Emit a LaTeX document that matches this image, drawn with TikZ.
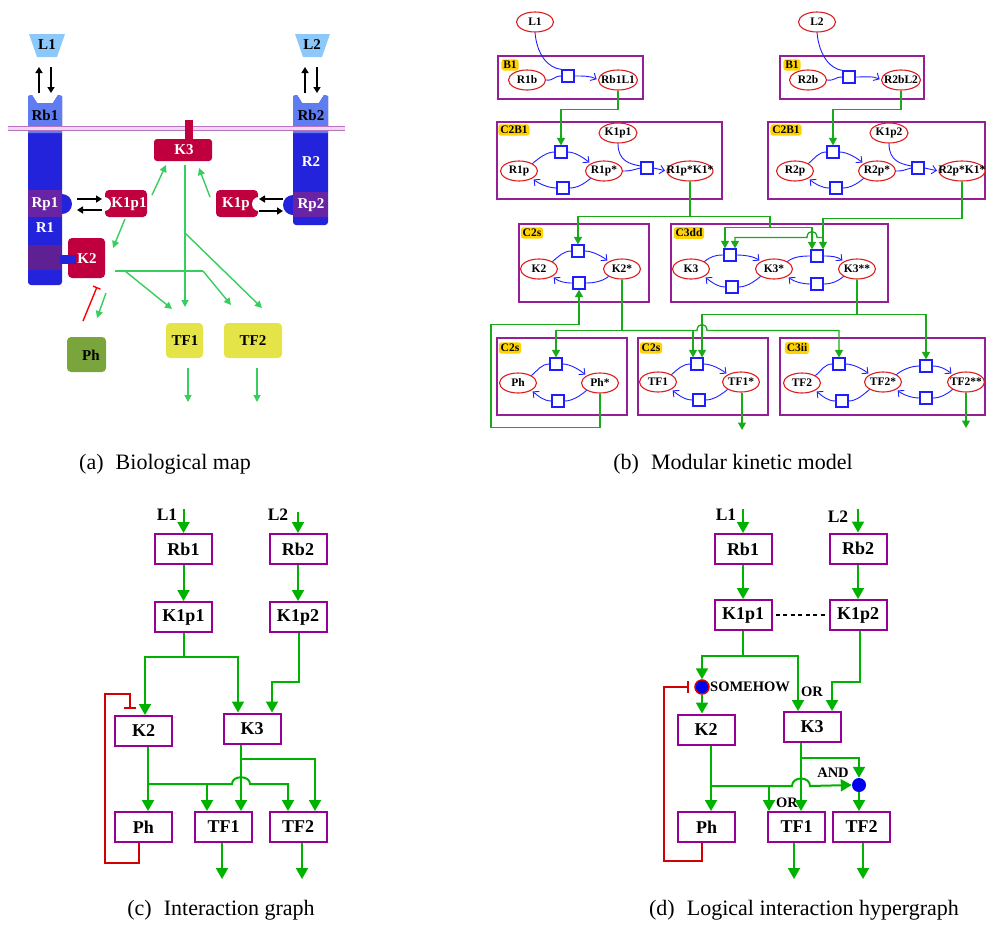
\documentclass[tikz,border=0pt]{standalone}
\usepackage{fontspec}
\setmainfont{Liberation Serif}
\usetikzlibrary{arrows.meta,shapes.geometric}
% colours of the biological map
\definecolor{mapblue}{RGB}{35,35,220}
\definecolor{maplight}{RGB}{95,125,240}
\definecolor{ligand}{RGB}{140,200,250}
\definecolor{mappurple}{RGB}{105,35,165}
\definecolor{crimson}{RGB}{192,0,62}
\definecolor{mapgreen}{RGB}{55,205,95}
\definecolor{olive}{RGB}{122,165,60}
\definecolor{tfyellow}{RGB}{228,228,72}
\definecolor{membrane}{RGB}{185,115,195}
\definecolor{membranefill}{RGB}{240,215,240}
% colours of the kinetic model
\definecolor{kgreen}{RGB}{25,170,25}
\definecolor{gyellow}{RGB}{255,210,0}
\definecolor{spred}{RGB}{220,30,30}
\definecolor{rxblue}{RGB}{30,30,255}
\definecolor{modpurple}{RGB}{150,30,150}
% colours of the graphs
\definecolor{igreen}{RGB}{0,178,0}
\definecolor{ipurple}{RGB}{150,0,150}
\definecolor{ired}{RGB}{210,0,0}
\definecolor{gateblue}{RGB}{0,0,240}

% two-state cycle: left species, right species, upper reaction, lower reaction
\newcommand\mkcycle[4]{%
  \draw[bl] (#1.north east) .. controls +(6,-5) and +(-8,0) .. (#3.west);
  \draw[bla] (#3.east) .. controls +(8,0) and +(-6,-5) .. (#2.north west);
  \draw[bl] (#2.south west) .. controls +(-6,5) and +(8,0) .. (#4.east);
  \draw[bla] (#4.west) .. controls +(-8,0) and +(6,5) .. (#1.south east);
}

\begin{document}
\begin{tikzpicture}[x=1pt,y=-1pt,
  maptxt/.style={font=\fontsize{15}{15}\selectfont\bfseries, inner sep=0pt},
  mapg/.style={draw=mapgreen, line width=1.4pt, -{Triangle[length=7pt,width=7pt]}},
  mapk/.style={draw=black, line width=1.8pt, -{Triangle[length=6pt,width=7pt]}},
  sp/.style={ellipse, draw=spred, line width=1.1pt, fill=white, minimum width=37pt,
    minimum height=20pt, inner sep=0pt, label={[sptext]center:#1}},
  sptext/.style={font=\fontsize{11.5}{12}\selectfont\bfseries, inner sep=0pt},
  sq/.style={draw=rxblue, line width=1.2pt, fill=white, minimum size=12pt, inner sep=0pt},
  module/.style={draw=modpurple, line width=1.2pt},
  badge/.style={fill=gyellow, rounded corners=2.5pt, inner sep=1.8pt,
    font=\fontsize{11.5}{12}\selectfont\bfseries},
  bl/.style={draw=rxblue, line width=0.9pt},
  bla/.style={bl, shorten >=1.5pt, -{Straight Barb[length=4.5pt,width=8.5pt]}},
  gk/.style={draw=kgreen, line width=1.3pt},
  gka/.style={gk, -{Triangle[length=7.5pt,width=8pt]}},
  box/.style={draw=ipurple, line width=2pt, fill=white, minimum width=57pt,
    minimum height=30pt, inner sep=0pt, font=\fontsize{18}{18}\selectfont\bfseries},
  ig/.style={draw=igreen, line width=2pt},
  iga/.style={ig, -{Triangle[length=11pt,width=12pt]}},
  inh/.style={draw=ired, line width=2pt},
  lbl/.style={font=\fontsize{17.5}{18}\selectfont\bfseries, inner sep=0pt},
  logic/.style={font=\fontsize{14.5}{15}\selectfont\bfseries, inner sep=0pt},
  gate/.style={circle, fill=gateblue, minimum size=14pt, inner sep=0pt},
  captxt/.style={font=\fontsize{22}{24}\selectfont, inner sep=0pt},
]
\useasboundingbox (0,0) rectangle (988,927);

%% ================= (a) biological map =================
% ligands
\fill[ligand] (29,34) -- (65,34) -- (57,57) -- (37,57) -- cycle;
\node[maptxt] (aL1) at (47,45) {L1};
\fill[ligand] (295,34) -- (330,34) -- (322,57) -- (303,57) -- cycle;
\node[maptxt] (aL2) at (312,45) {L2};
% receptor 1
\fill[mapblue] (28,96) -- (32,95) -- (37,103) -- (53,103) -- (58,95) -- (62,96)
  [rounded corners=3pt] -- (62,285) -- (28,285) [sharp corners] -- cycle;
\fill[maplight] (28,96) -- (32,95) -- (37,103) -- (53,103) -- (58,95) -- (62,96) -- (62,133) -- (28,133) -- cycle;
\fill[mapblue] (62,204) circle[radius=10pt];
\fill[mappurple] (28,190) rectangle (62,217);
\fill[mappurple!90!black] (28,245) rectangle (62,270);
% receptor 2
\fill[mapblue] (293,96) -- (297,95) -- (302,103) -- (319,103) -- (324,95) -- (328,96)
  [rounded corners=3pt] -- (328,225) -- (293,225) [sharp corners] -- cycle;
\fill[maplight] (293,96) -- (297,95) -- (302,103) -- (319,103) -- (324,95) -- (328,96) -- (328,133) -- (293,133) -- cycle;
\fill[mapblue] (293,205) circle[radius=10pt];
\fill[mappurple] (293,192) rectangle (328,217);
% membrane
\fill[membranefill] (8,126.5) rectangle (345,130.5);
\draw[membrane, line width=1pt] (8,126.5) -- (345,126.5);
\draw[membrane, line width=1pt] (8,130.5) -- (345,130.5);
\node[maptxt] (aRb1) at (45,115) {Rb1};
\node[maptxt, text=white] (aRp1) at (45,204) {Rp1};
\node[maptxt, text=white] (aR1) at (45,228) {R1};
\node[maptxt] (aRb2) at (311,115) {Rb2};
\node[maptxt, text=white] (aR2) at (311,162) {R2};
\node[maptxt, text=white] (aRp2) at (311,205) {Rp2};
% kinases
\fill[crimson] (185,120) rectangle (193,140);
\fill[crimson, rounded corners=3pt] (154,139) rectangle (212,161);
\node[maptxt, text=white] (aK3) at (184,150) {K3};
\fill[crimson, rounded corners=4pt] (105,190) rectangle (147,217);
\fill[white] (104,204) circle[radius=7pt];
\node[maptxt, text=white] (aK1p1) at (129,204) {K1p1};
\fill[crimson, rounded corners=4pt] (216,190) rectangle (258,217);
\fill[white] (259,204) circle[radius=7pt];
\node[maptxt, text=white] (aK1p2) at (236,204) {K1p};
\fill[crimson, rounded corners=4pt] (68,238) rectangle (105,278);
\fill[mapblue] (60,255) rectangle (76,264);
\node[maptxt, text=white] (aK2) at (87,259) {K2};
% phosphatase and transcription factors
\fill[olive, rounded corners=4pt] (67,337) rectangle (106,372);
\node[maptxt] (aPh) at (91,355) {Ph};
\fill[tfyellow, rounded corners=4pt] (166,323) rectangle (203,358);
\node[maptxt] (aTF1) at (185,341) {TF1};
\fill[tfyellow, rounded corners=4pt] (224,323) rectangle (282,358);
\node[maptxt] (aTF2) at (253,341) {TF2};
% binding arrows
\draw[mapk] (39,93) -- (39,67);
\draw[mapk] (51,67) -- (51,93);
\draw[mapk] (305,93) -- (305,67);
\draw[mapk] (317,67) -- (317,93);
\draw[mapk] (77,199) -- (102,199);
\draw[mapk] (102,210) -- (77,210);
\draw[mapk] (283,199) -- (259,199);
\draw[mapk] (259,211) -- (283,211);
% activations
\draw[mapg] (152,195) -- (166,165);
\draw[mapg] (210,197) -- (199,168);
\draw[mapg] (125,219) -- (113,248);
\draw[mapg] (185,165) -- (185,307);
\draw[mapg] (185,233) -- (262,308);
\draw[draw=mapgreen, line width=1.4pt] (115,271) -- (203,271);
\draw[mapg] (125,271) -- (172,309);
\draw[mapg] (203,271) -- (231,305);
\draw[mapg] (106,293) -- (97,318);
\draw[mapg] (188,368) -- (188,402);
\draw[mapg] (257,368) -- (257,402);
\draw[draw=red, line width=1.4pt, -{Bar[width=8pt]}] (83,321) -- (97,287);

%% ================= (b) modular kinetic model =================
% ligand binding modules
\draw[module] (498,56) rectangle (643,99);
\node[badge] (bgB1a) at (510,65) {B1};
\node[sp=L1] (L1) at (535,22) {};
\node[sp=R1b] (R1b) at (527,80) {};
\node[sp=Rb1L1, minimum width=39pt] (Rb1L1) at (618,80) {};
\node[sq] (sqb1) at (568,76) {};
\draw[bl] (L1.south) .. controls (537,55) and (548,68) .. (sqb1.north west);
\draw[bl] (R1b.east) .. controls +(8,1) and +(-8,0) .. (sqb1.west);
\draw[bla] (sqb1.east) .. controls +(9,0) and +(-7,-4) .. (Rb1L1.west);

\draw[module] (780,56) rectangle (924,99);
\node[badge] (bgB1b) at (792,65) {B1};
\node[sp=L2] (L2) at (817,22) {};
\node[sp=R2b] (R2b) at (808,80) {};
\node[sp=R2bL2, minimum width=39pt] (R2bL2) at (901,80) {};
\node[sq] (sqb2) at (849,77) {};
\draw[bl] (L2.south) .. controls (819,55) and (830,69) .. (sqb2.north west);
\draw[bl] (R2b.east) .. controls +(8,1) and +(-8,0) .. (sqb2.west);
\draw[bla] (sqb2.east) .. controls +(9,0) and +(-7,-4) .. (R2bL2.west);

% receptor modules
\draw[module] (497,122) rectangle (722,199);
\node[badge] (bgC2B1a) at (514,130) {C2B1};
\node[sp=K1p1, minimum width=38pt] (K1p1) at (618,133) {};
\node[sp=R1p] (R1p) at (519,171) {};
\node[sp=R1p*] (R1ps) at (604,171) {};
\node[sp=R1p*K1*, minimum width=46pt] (R1psK) at (690,171) {};
\node[sq] (c1t) at (561,152) {};
\node[sq] (c1b) at (563,188) {};
\node[sq] (c1k) at (647,168) {};
\mkcycle{R1p}{R1ps}{c1t}{c1b}
\draw[bl] (R1ps.east) .. controls +(8,0) and +(-8,2) .. (c1k.west);
\draw[bl] (K1p1.south) .. controls +(0,18) and +(-10,-2) .. ([yshift=2pt]c1k.west);
\draw[bla] (c1k.east) -- (R1psK.west);

\draw[module] (768,122) rectangle (985,199);
\node[badge] (bgC2B1b) at (786,130) {C2B1};
\node[sp=K1p2, minimum width=38pt] (K1p2) at (889,133) {};
\node[sp=R2p] (R2p) at (795,171) {};
\node[sp=R2p*] (R2ps) at (877,171) {};
\node[sp=R2p*K1*, minimum width=46pt] (R2psK) at (962,171) {};
\node[sq] (c2t) at (833,152) {};
\node[sq] (c2b) at (836,188) {};
\node[sq] (c2k) at (918,168) {};
\mkcycle{R2p}{R2ps}{c2t}{c2b}
\draw[bl] (R2ps.east) .. controls +(8,0) and +(-8,2) .. (c2k.west);
\draw[bl] (K1p2.south) .. controls +(0,18) and +(-10,-2) .. ([yshift=2pt]c2k.west);
\draw[bla] (c2k.east) -- (R2psK.west);

% kinase modules
\draw[module] (519,224) rectangle (649,302);
\node[badge] (bgC2sa) at (532,233) {C2s};
\node[sp=K2] (K2) at (539,269) {};
\node[sp=K2*] (K2s) at (622,269) {};
\node[sq] (k2t) at (578,251) {};
\node[sq] (k2b) at (579,283) {};
\mkcycle{K2}{K2s}{k2t}{k2b}

\draw[module] (671,224) rectangle (888,302);
\node[badge] (bgC3dd) at (689,233) {C3dd};
\node[sp=K3] (K3) at (691,269) {};
\node[sp=K3*] (K3s) at (774,269) {};
\node[sp=K3**] (K3ss) at (857,269) {};
\node[sq] (k3at) at (730,255) {};
\node[sq] (k3ab) at (732,287) {};
\node[sq] (k3bt) at (817,256) {};
\node[sq] (k3bb) at (817,284) {};
\mkcycle{K3}{K3s}{k3at}{k3ab}
\mkcycle{K3s}{K3ss}{k3bt}{k3bb}

% target modules
\draw[module] (497,338) rectangle (627,415);
\node[badge] (bgC2sb) at (510,348) {C2s};
\node[sp=Ph] (Ph) at (518,383) {};
\node[sp=Ph*] (Phs) at (600,383) {};
\node[sq] (pht) at (556,364) {};
\node[sq] (phb) at (558,401) {};
\mkcycle{Ph}{Phs}{pht}{phb}

\draw[module] (638,338) rectangle (768,415);
\node[badge] (bgC2sc) at (651,348) {C2s};
\node[sp=TF1] (TF1) at (658,382) {};
\node[sp=TF1*] (TF1s) at (741,382) {};
\node[sq] (tf1t) at (697,364) {};
\node[sq] (tf1b) at (699,400) {};
\mkcycle{TF1}{TF1s}{tf1t}{tf1b}

\draw[module] (780,338) rectangle (985,415);
\node[badge] (bgC3ii) at (797,348) {C3ii};
\node[sp=TF2] (TF2) at (802,383) {};
\node[sp=TF2*] (TF2s) at (883,382) {};
\node[sp=TF2**] (TF2ss) at (966,382) {};
\node[sq] (tf2at) at (839,364) {};
\node[sq] (tf2ab) at (842,401) {};
\node[sq] (tf2bt) at (926,366) {};
\node[sq] (tf2bb) at (926,398) {};
\mkcycle{TF2}{TF2s}{tf2at}{tf2ab}
\mkcycle{TF2s}{TF2ss}{tf2bt}{tf2bb}

% signal flow between modules
\draw[gka] (Rb1L1.south) |- (561,109.5) -- (c1t.north);
\draw[gka] (R2bL2.south) |- (833,109.5) -- (c2t.north);
\draw[gk] (R1psK.south) -- (690,216.5) coordinate (j1);
\draw[gka] (j1) -| (k2t.north);
\draw[gk] (j1) -| (770,227.5) coordinate (j2);
\draw[gka] (j2) -| ([xshift=-5pt]k3at.north);
\draw[gka] (j2) -| ([xshift=-5pt]k3bt.north);
\draw[gka] (R2psK.south) |- (823,218.5) -- ([xshift=6pt]k3bt.north);
\draw[gka] (823,237.5) -- (817,237.5) .. controls (817,229.5) and (807,229.5) .. (807,237.5)
  -- (735,237.5) -- ([xshift=5pt]k3at.north);
\draw[gk] (K2s.south) -- (622,330.5) coordinate (j3);
\draw[gka] (j3) -| (pht.north);
\draw[gka] (j3) -| ([xshift=-4pt]tf1t.north);
\draw[gka] (j3) -- (697,330.5) .. controls (697,322.5) and (707,322.5) .. (707,330.5) -| (tf2at.north);
\draw[gk] (K3ss.south) -- (857,314.5) coordinate (j4);
\draw[gka] (j4) -| ([xshift=5pt]tf1t.north);
\draw[gka] (j4) -| (tf2bt.north);
\draw[gka] (Phs.south) |- (491,427.5) |- (579,324.5) -- (k2b.south);
\coordinate (bo1) at (742,430);
\draw[gka] ([xshift=1pt]TF1s.south) -- (bo1);
\coordinate (bo2) at (966,428);
\draw[gka] (TF2ss.south) -- (bo2);

%% ================= (c) interaction graph =================
\node[lbl] (L1c) at (167,515) {L1};
\node[lbl] (L2c) at (278,515) {L2};
\node[box] (Rb1c) at (183.5,549) {Rb1};
\node[box] (Rb2c) at (298,549) {Rb2};
\node[box] (K1p1c) at (183.5,617) {K1p1};
\node[box] (K1p2c) at (298,617) {K1p2};
\node[box] (K2c) at (143.5,731) {K2};
\node[box] (K3c) at (252,728.5) {K3};
\node[box] (Phc) at (143.5,827) {Ph};
\node[box] (TF1c) at (223.5,827) {TF1};
\node[box] (TF2c) at (298,827) {TF2};
\draw[iga] ([yshift=24pt]Rb1c.north) -- (Rb1c.north);
\draw[iga] ([yshift=21pt]Rb2c.north) -- (Rb2c.north);
\draw[iga] (Rb1c) -- (K1p1c);
\draw[iga] (Rb2c) -- (K1p2c);
\draw[ig] (K1p1c.south) -- ++(0,24) coordinate (c1);
\draw[iga] (c1) -| ([xshift=1.5pt]K2c.north);
\draw[iga] (c1) -| ([xshift=-14pt]K3c.north);
\draw[iga] ([xshift=1pt]K1p2c.south) |- (272,682) -- ([xshift=20pt]K3c.north);
\draw[inh, -{Bar[width=12pt]}] ([xshift=-4.5pt]Phc.south) -- ++(0,20) -| (105,694) -| (130,709);
\draw[iga] ([xshift=4.5pt]K2c.south) -- ([xshift=4.5pt]Phc.north);
\coordinate (c2) at (148,784);
\draw[iga] (c2) -| ([xshift=-16.5pt]TF1c.north);
\draw[iga] (c2) -- (232,784) .. controls (232,775) and (250,775) .. (250,784)
  -| ([xshift=-10pt]TF2c.north);
\draw[iga] ([xshift=-11pt]K3c.south) -- ([xshift=17.5pt]TF1c.north);
\coordinate (c3) at (241,759);
\draw[iga] (c3) -| ([xshift=17pt]TF2c.north);
\coordinate (co1) at (222,879);
\draw[iga] ([xshift=-1.5pt]TF1c.south) -- (co1);
\coordinate (co2) at (302,879);
\draw[iga] ([xshift=4pt]TF2c.south) -- (co2);

%% ================= (d) logical interaction hypergraph =================
\node[lbl] (L1d) at (726,515) {L1};
\node[lbl] (L2d) at (838,517) {L2};
\node[box] (Rb1d) at (743,549) {Rb1};
\node[box] (Rb2d) at (858,548.5) {Rb2};
\node[box] (K1p1d) at (743,615) {K1p1};
\node[box] (K1p2d) at (858,615) {K1p2};
\node[box] (K2d) at (706,729.5) {K2};
\node[box] (K3d) at (812,727) {K3};
\node[box] (Phd) at (706.5,827) {Ph};
\node[box] (TF1d) at (796.5,827) {TF1};
\node[box] (TF2d) at (861.5,827) {TF2};
\node[gate, draw=ired, line width=1.5pt] (som) at (702,687) {};
\node[gate] (andg) at (859,785) {};
\node[logic, anchor=west] (somt) at (710,687) {SOMEHOW};
\node[logic] (or1) at (812,692) {OR};
\node[logic] (andt) at (833,773) {AND};
\node[logic] (or2) at (787,803) {OR};
\draw[iga] ([yshift=24pt]Rb1d.north) -- (Rb1d.north);
\draw[iga] ([yshift=24pt]Rb2d.north) -- (Rb2d.north);
\draw[iga] (Rb1d) -- (K1p1d);
\draw[iga] (Rb2d) -- (K1p2d);
\draw[line width=1.3pt, dash pattern=on 4pt off 3.5pt, shorten <=3pt, shorten >=3pt] (K1p1d) -- (K1p2d);
\draw[ig] (K1p1d.south) -- ++(0,25) coordinate (d1);
\draw[iga] (d1) -| (som.north);
\draw[iga] (d1) -| ([xshift=-14pt]K3d.north);
\draw[iga] ([xshift=2pt]K1p2d.south) |- (832,682) -- ([xshift=20pt]K3d.north);
\draw[iga] (som) -- ([xshift=-4pt]K2d.north);
\draw[inh, shorten >=5pt, -{Bar[width=12pt]}] ([xshift=-4.5pt]Phd.south) -- ++(0,18) -| (664,687) -- (som.west);
\draw[iga] ([xshift=5pt]K2d.south) -- ([xshift=4.5pt]Phd.north);
\coordinate (d2) at (711,786);
\draw[iga] (d2) -| ([xshift=-27.5pt]TF1d.north);
\draw[iga] (d2) -- (792,786) .. controls (792,776) and (810,776) .. (810,786) -- (andg.west);
\draw[iga] ([xshift=-11pt]K3d.south) -- ([xshift=4.5pt]TF1d.north);
\coordinate (d3) at (801,758);
\draw[iga] (d3) -| (andg.north);
\draw[iga] (andg) -- ([xshift=-2.5pt]TF2d.north);
\coordinate (do1) at (794,879);
\draw[iga] ([xshift=-2.5pt]TF1d.south) -- (do1);
\coordinate (do2) at (863,879);
\draw[iga] ([xshift=1.5pt]TF2d.south) -- (do2);

%% ================= captions =================
\node[captxt] (capa) at (165,464) {(a)\hspace{0.55em}Biological map};
\node[captxt] (capb) at (733,464) {(b)\hspace{0.55em}Modular kinetic model};
\node[captxt] (capc) at (221,910) {(c)\hspace{0.55em}Interaction graph};
\node[captxt] (capd) at (804,910) {(d)\hspace{0.55em}Logical interaction hypergraph};
\end{tikzpicture}
\end{document}
